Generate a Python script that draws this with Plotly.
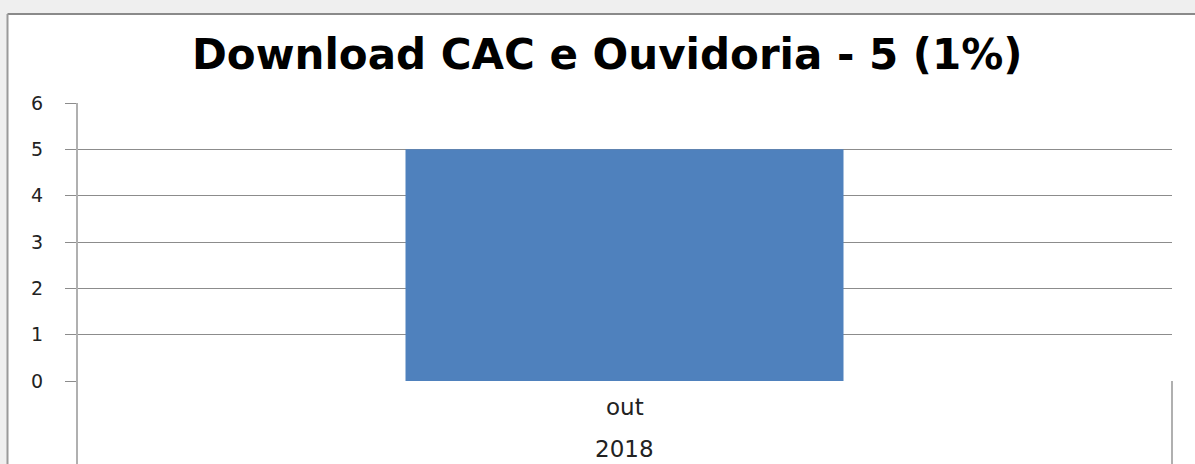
import plotly.graph_objects as go

categories = ["out"]
year_label = "2018"
values = [5]
title_text = "Download CAC e Ouvidoria - 5 (1%)"
y_ticks = [0, 1, 2, 3, 4, 5, 6]

W, H = 1195, 464
L, R, T, B = 77, 23, 103, 83
pw, ph = W - L - R, H - T - B

def px_x(x):
    return (x - L) / pw

def px_y(y):
    return (H - B - y) / ph

fig = go.Figure()
fig.add_trace(go.Bar(x=categories, y=values, width=0.4,
                     marker=dict(color="#4F81BD", line=dict(width=0))))

shapes = []
# outer light-gray page background (outside chart border)
shapes.append(dict(type="rect", xref="paper", yref="paper", x0=px_x(0), x1=px_x(W), y0=px_y(0), y1=px_y(14),
                   fillcolor="#efefef", line=dict(width=0), layer="below"))
shapes.append(dict(type="rect", xref="paper", yref="paper", x0=px_x(0), x1=px_x(8), y0=px_y(0), y1=px_y(H),
                   fillcolor="#efefef", line=dict(width=0), layer="below"))
# chart border top and left
shapes.append(dict(type="line", xref="paper", yref="paper", x0=px_x(7.5), x1=px_x(W), y0=px_y(14), y1=px_y(14),
                   line=dict(color="#8a8a8a", width=2)))
shapes.append(dict(type="line", xref="paper", yref="paper", x0=px_x(7.5), x1=px_x(7.5), y0=px_y(14), y1=px_y(H),
                   line=dict(color="#9a9a9a", width=2)))
# y-axis line extended down, and right divider
shapes.append(dict(type="line", xref="paper", yref="paper", x0=0, x1=0, y0=px_y(H), y1=1,
                   line=dict(color="#b0b0b0", width=2)))
shapes.append(dict(type="line", xref="paper", yref="paper", x0=1, x1=1, y0=px_y(H), y1=0,
                   line=dict(color="#b0b0b0", width=2)))

annotations = [
    dict(text="<b>" + title_text + "</b>", xref="paper", yref="paper", x=px_x(607), y=px_y(55),
         showarrow=False, font=dict(family="DejaVu Sans", size=42, color="#000000"),
         xanchor="center", yanchor="middle"),
    dict(text=categories[0], xref="x", yref="paper", x=categories[0], y=px_y(407),
         showarrow=False, font=dict(family="DejaVu Sans", size=23, color="#222222"),
         xanchor="center", yanchor="middle"),
    dict(text=year_label, xref="x", yref="paper", x=categories[0], y=px_y(449),
         showarrow=False, font=dict(family="DejaVu Sans", size=23, color="#222222"),
         xanchor="center", yanchor="middle"),
]

fig.update_layout(
    width=W, height=H,
    margin=dict(l=L, r=R, t=T, b=B, pad=0),
    paper_bgcolor="white", plot_bgcolor="white",
    showlegend=False,
    shapes=shapes, annotations=annotations,
    xaxis=dict(range=[-0.5, 0.5], showticklabels=False, showgrid=False, zeroline=False,
               showline=False, ticks=""),
    yaxis=dict(range=[0, 6], tickvals=y_ticks, showgrid=True, gridcolor="#8c8c8c", gridwidth=1,
               zeroline=False, showline=False, ticks="outside", ticklen=11, tickcolor="#8c8c8c",
               tickwidth=1, ticklabelstandoff=18,
               tickfont=dict(family="DejaVu Sans", size=19, color="#222222")),
)

fig.write_html("out.html", config={"displayModeBar": False},
               post_script="document.body.style.margin='0';document.body.style.overflow='hidden';")
